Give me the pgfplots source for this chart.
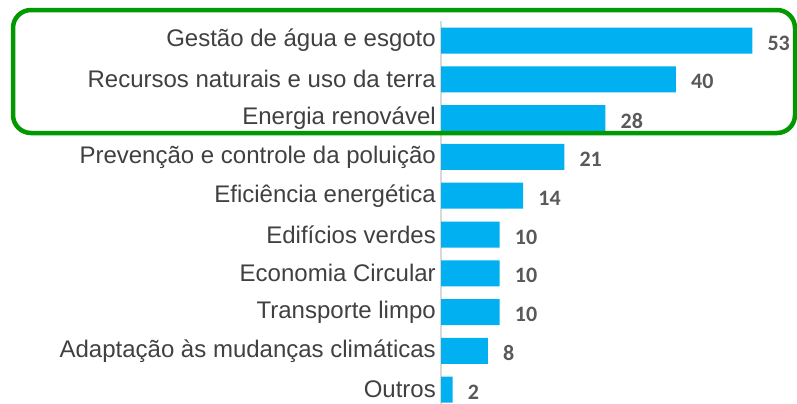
\documentclass[border=0pt]{standalone}
\usepackage{pgfplots}
\pgfplotsset{compat=1.18}
\usepackage{fontspec}
\setmainfont{Liberation Sans}
\newfontfamily\valfont{Carlito}
\definecolor{barblue}{RGB}{0,176,240}
\definecolor{boxgreen}{RGB}{0,153,0}
\definecolor{lbl}{RGB}{64,64,64}
\definecolor{val}{RGB}{89,89,89}
\definecolor{axgray}{RGB}{217,217,217}
\begin{document}
\begin{tikzpicture}
\begin{axis}[
  at={(441bp,-21.1bp)}, anchor=north west,
  scale only axis, width=356bp, height=388bp,
  xbar, bar width=26bp,
  xmin=0, xmax=60.6,
  ymin=-0.5, ymax=9.5, y dir=reverse,
  axis x line=none,
  axis y line=left,
  y axis line style={-, draw=axgray, line width=1.5bp},
  ytick={0,...,9},
  yticklabels={Gestão de água e esgoto, Recursos naturais e uso da terra, Energia renovável, Prevenção e controle da poluição, Eficiência energética, Edifícios verdes, Economia Circular, Transporte limpo, Adaptação às mudanças climáticas, Outros},
  major tick length=0,
  ytick style={draw=none},
  yticklabel style={font=\fontsize{24bp}{26bp}\selectfont, text=lbl, anchor=east, inner sep=0pt, xshift=-5bp},
  nodes near coords={\pgfmathprintnumber[assume math mode=true]{\pgfplotspointmeta}},
  nodes near coords style={font=\valfont\bfseries\fontsize{22bp}{24bp}\selectfont, text=val, anchor=west, inner sep=0pt, xshift=15bp, yshift=-2.5bp},
  clip=false,
]
\addplot[fill=barblue, draw=none] coordinates {
(53,0) (40,1) (28,2) (21,3) (14,4) (10,5) (10,6) (10,7) (8,8) (2,9)
};
\end{axis}
\draw[line width=4.5bp, boxgreen, rounded corners=18bp] (13bp,-10bp) rectangle (795bp,-133bp);
\pgfresetboundingbox
\path (0,0) rectangle (797bp,-404bp);
\end{tikzpicture}
\end{document}
